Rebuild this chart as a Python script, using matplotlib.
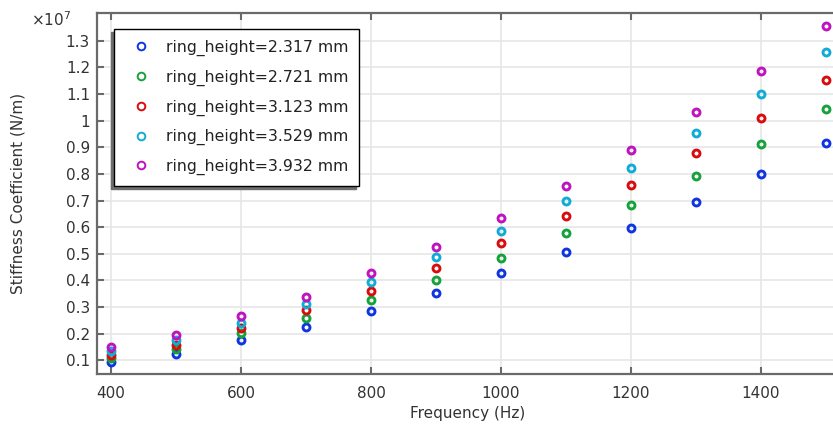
import numpy as np
import matplotlib.pyplot as plt
from matplotlib.ticker import FuncFormatter

# DATA ===================================================================
freq = [400, 500, 600, 700, 800, 900, 1000, 1100, 1200, 1300, 1400, 1500]  # Hz

labels = ['ring_height=2.317 mm', 'ring_height=2.721 mm', 'ring_height=3.123 mm',
          'ring_height=3.529 mm', 'ring_height=3.932 mm']

# stiffness coefficient, N/m (values x 1e7)
k_2317 = [0.094, 0.125, 0.176, 0.226, 0.286, 0.354, 0.427, 0.508, 0.598, 0.693, 0.800, 0.915]
k_2721 = [0.109, 0.142, 0.201, 0.260, 0.327, 0.403, 0.486, 0.579, 0.682, 0.792, 0.911, 1.042]
k_3123 = [0.120, 0.157, 0.222, 0.289, 0.362, 0.447, 0.540, 0.643, 0.758, 0.877, 1.011, 1.154]
k_3529 = [0.135, 0.176, 0.241, 0.312, 0.393, 0.488, 0.586, 0.700, 0.823, 0.955, 1.100, 1.256]
k_3932 = [0.150, 0.194, 0.266, 0.338, 0.427, 0.525, 0.634, 0.755, 0.891, 1.031, 1.187, 1.356]

series = [np.array(k) * 1e7 for k in (k_2317, k_2721, k_3123, k_3529, k_3932)]
colores = ['#0f35e0', '#16a23a', '#d80c0c', '#10acd6', '#be13be']

# PLOT ===================================================================
fs = 11
plt.rcParams['font.family'] = 'DejaVu Sans'
fig = plt.figure(figsize=(8.33, 4.26), dpi=100)
ax = fig.add_axes([97/833, 52/426, 742/833, 361/426])   # corta a la derecha como el original

for k, c, lab in zip(series, colores, labels):
    ax.plot(freq, k, 'o', ls='none', mfc='none', mec=c, ms=5, mew=2.1,
            label=lab, zorder=3)

ax.set_xlim(378.5, 1520)
ax.set_ylim(0.0486e7, 1.404e7)
ax.set_xticks(np.arange(400, 1401, 200))
ax.set_yticks(np.arange(1, 14) * 1e6)
ax.yaxis.set_major_formatter(FuncFormatter(lambda v, p: '%g' % round(v / 1e7, 2)))
# factor de escala (a mano, como en el original)
ax.text(-0.089, 1.008, r'×10$^{7}$', transform=ax.transAxes, fontsize=fs,
        color='#333333', ha='left', va='top')

ax.grid(True, color='#e6e6e6', lw=1.2, zorder=0)
ax.set_axisbelow(True)
ax.tick_params(direction='in', length=5, width=1.5, color='#6a6a6a',
               labelsize=fs, labelcolor='#333333', top=True, right=False, pad=5)
ax.tick_params(axis='x', pad=9)
for s in ['left', 'bottom', 'top']:
    ax.spines[s].set_color('#6a6a6a')
    ax.spines[s].set_linewidth(1.6)
ax.spines['right'].set_visible(False)

ax.set_xlabel('Frequency (Hz)', fontsize=fs, color='#333333', labelpad=3)
ax.set_ylabel('Stiffness Coefficient (N/m)', fontsize=fs, color='#333333')
ax.yaxis.set_label_coords(-0.097, 0.5)

leg = ax.legend(loc='upper left', bbox_to_anchor=(17/742, 0.9557), borderaxespad=0,
                fontsize=11.3, fancybox=False, edgecolor='black', framealpha=1,
                borderpad=0.7, labelspacing=0.86, handletextpad=0.6,
                shadow={'ox': -2.5, 'oy': -2.5, 'color': '#6e6e6e', 'alpha': 1})
leg.get_frame().set_linewidth(1.0)
for h in leg.legend_handles:
    h.set_markeredgewidth(1.4)
    h.set_markersize(5.5)
for t in leg.get_texts():
    t.set_color('#222222')

plt.savefig('out.png', dpi=100)
